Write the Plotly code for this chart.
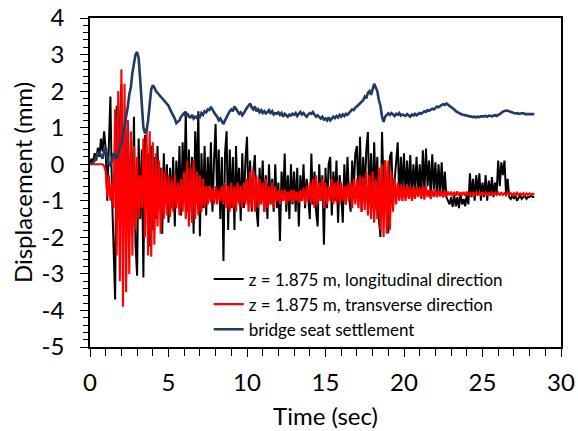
import plotly.graph_objects as go

# sampling interval of the digitised records (s)
sample_interval = 0.1

# z = 1.875 m, longitudinal direction (mm), one row per second
longitudinal = [
    0.0, 0.15, 0.05, 0.3, 0.1, 0.45, 0.2, 0.7, 0.35, 0.9,
    0.4, -1.0, 0.5, 1.85, -0.8, -2.0, -3.7, 1.6, -1.5, 1.0,
    2.2, -1.4, 0.9, -0.9, 1.2, -1.8, 0.6, -1.2, 1.3, -2.2,
    -3.05, 0.7, -1.5, 0.4, -3.1, 0.8, -1.2, 0.3, -2.25, 0.5,
    -1.8, 0.2, -1.5, 0.5, -1.1, -0.1, -1.9, 0.3, -1.0, 0.0,
    -1.6, -0.1, -1.2, 0.2, -1.7, 0.1, -0.9, 0.5, -1.4, 0.6,
    -0.8, 1.45, -1.3, 0.4, -1.0, 0.2, -1.9, 0.9, -0.5, 1.45,
    -1.97, 0.3, -1.2, 0.5, -1.4, 0.2, -0.9, 0.6, -1.3, 0.1,
    1.1, -1.0, 0.4, -1.5, 0.2, -2.65, 0.3, 0.9, -1.8, 0.4,
    -1.2, 0.2, -1.8, 0.5, -1.0, -0.1, -1.55, 0.3, -1.2, 0.1,
    0.75, -1.1, 0.1, -1.3, -0.2, 0.25, -1.2, -1.71, -0.1, -1.0,
    0.1, -1.3, -0.3, -1.5, 0.0, -1.1, -0.4, -1.3, 0.0, -1.2,
    -0.5, -2.1, -0.2, -1.0, 0.29, -1.3, -0.3, -1.5, 0.0, -1.1,
    -0.2, -1.3, -0.1, -1.7, -0.3, -1.0, 0.0, -1.2, -0.4, -0.9,
    -1.5, 0.29, -1.1, -0.2, -1.3, -1.7, 0.0, -1.0, -0.3, -2.2,
    -0.1, -1.2, 0.0, 0.2, -1.4, -0.2, -1.0, 0.1, -1.6, -0.3,
    -0.8, -1.6, 0.0, -1.1, 0.2, -0.9, -1.3, 0.1, -0.7, 0.3,
    0.5, -1.0, 0.75, -1.3, 0.2, -0.8, 0.4, 0.88, -1.1, 0.3,
    -1.2, 0.6, -0.8, 0.2, -1.5, -1.99, 0.88, -0.6, 0.1, -1.2,
    -1.89, 0.2, 0.34, -1.0, -0.5, 0.0, 0.6, -0.98, 0.2, -0.7,
    0.3, -0.9, 0.1, -0.8, 0.25, -0.9, 0.0, -0.7, 0.2, -0.85,
    0.0, -0.9, 0.38, -0.8, 0.43, -0.6, 0.1, -0.9, 0.27, -0.7,
    0.05, -0.9, 0.0, -0.8, 0.05, -0.9, -0.2, -0.9, -1.0, -1.1,
    -0.9, -1.17, -0.85, -1.15, -0.9, -1.2, -0.8, -1.1, -0.95, -1.15,
    -0.8, -1.1, -0.25, -0.9, -0.4, -1.0, -0.3, -0.8, -0.25, -1.0,
    -0.5, -0.9, -0.3, -1.0, -0.45, -0.85, -0.35, -0.9, -0.5, -0.8,
    0.1, -0.6, 0.05, -0.3, 0.1, -0.8, -0.4, -0.9, -0.95, -0.85,
    -0.95, -0.85, -1.0, -0.9, -0.85, -0.95, -0.9, -0.85, -0.95, -0.9,
    -0.9, -0.85, -0.9, -0.9,
]

# z = 1.875 m, transverse direction (mm)
transverse = [
    0.0, 0.0, 0.0, 0.0, 0.0, 0.0, 0.0, 0.0, 0.0, -0.05,
    -0.2, -0.9, -0.3, -1.0, -0.5, -1.2, 1.5, -2.5, 2.0, -3.2,
    2.6, -3.9, 2.2, -3.5, 1.2, -3.0, 0.9, -2.5, 0.5, -1.8,
    0.2, -1.5, -0.3, -1.2, 0.7, -2.0, 1.0, -2.5, 0.9, -2.53,
    0.6, -2.2, 0.3, -1.7, 0.1, -1.9, -0.1, -1.5, -0.2, -1.4,
    -0.3, -1.45, -0.4, -1.3, -0.27, -1.2, -0.5, -1.4, -0.4, -1.3,
    -0.2, -1.5, 0.1, -1.7, -0.1, -1.6, 0.11, -1.5, -0.2, -1.4,
    -0.3, -1.3, -0.4, -1.2, -0.6, -1.1, -0.6, -1.05, -0.65, -1.1,
    -0.6, -1.1, -0.7, -1.0, -0.6, -1.1, -0.5, -1.2, -0.6, -1.3,
    -0.5, -1.2, -0.6, -1.3, -0.5, -1.1, -0.6, -1.2, -0.5, -1.1,
    -0.4, -1.3, -0.2, -1.2, -0.14, -1.3, -0.3, -1.2, -0.4, -1.1,
    -0.5, -1.3, -0.4, -1.2, -0.6, -1.1, -0.5, -1.2, -0.6, -1.0,
    -0.7, -1.1, -0.7, -1.0, -0.7, -1.1, -0.75, -1.0, -0.7, -1.05,
    -0.7, -1.0, -0.75, -1.05, -0.7, -1.0, -0.65, -1.1, -0.6, -1.0,
    -0.5, -1.1, -0.4, -1.2, -0.3, -1.1, -0.5, -1.0, -0.4, -1.2,
    -0.5, -1.1, -0.6, -1.0, -0.4, -1.1, -0.5, -1.05, -0.45, -1.1,
    -0.5, -1.0, -0.6, -1.1, -0.55, -1.0, -0.5, -1.2, -0.4, -1.1,
    -0.4, -1.2, -0.3, -1.3, -0.35, -1.25, -0.2, -1.4, -0.3, -1.5,
    -0.2, -1.6, -0.4, -1.5, -0.1, -1.8, 0.0, -1.99, 0.11, -1.9,
    0.1, -1.8, -0.2, -1.3, -0.4, -1.1, -0.5, -1.0, -0.55, -1.0,
    -0.6, -1.0, -0.55, -0.95, -0.6, -1.0, -0.65, -0.95, -0.6, -0.9,
    -0.65, -0.95, -0.6, -0.97, -0.6, -0.9, -0.7, -0.95, -0.7, -0.9,
    -0.7, -0.9, -0.72, -0.88, -0.75, -0.9, -0.72, -0.87, -0.75, -0.85,
    -0.75, -0.88, -0.76, -0.86, -0.74, -0.87, -0.77, -0.85, -0.76, -0.86,
    -0.75, -0.85, -0.77, -0.86, -0.76, -0.84, -0.78, -0.86, -0.77, -0.85,
    -0.76, -0.85, -0.78, -0.84, -0.77, -0.86, -0.78, -0.85, -0.77, -0.84,
    -0.78, -0.85, -0.77, -0.84, -0.79, -0.85, -0.78, -0.84, -0.79, -0.85,
    -0.79, -0.84, -0.78, -0.85, -0.8, -0.84, -0.79, -0.85, -0.8, -0.84,
    -0.8, -0.84, -0.8, -0.83,
]

# bridge seat settlement (mm)
settlement = [
    0.0, 0.02, 0.05, 0.1, 0.18, 0.3, 0.33, 0.25, 0.15, 0.35,
    0.45, 0.2, 0.0, -0.03, 0.1, 0.3, 0.25, 0.15, 0.35, 0.47,
    0.55, 0.8, 1.0, 1.3, 1.55, 1.9, 2.1, 2.5, 2.8, 3.0,
    3.07, 2.9, 2.3, 1.6, 1.0, 0.85, 0.9, 1.2, 1.7, 2.05,
    2.16, 2.1, 2.0, 1.95, 1.9, 1.85, 1.8, 1.75, 1.72, 1.68,
    1.6, 1.5, 1.42, 1.35, 1.25, 1.12, 1.15, 1.2, 1.3, 1.35,
    1.4, 1.32, 1.39, 1.3, 1.28, 1.35, 1.25, 1.3, 1.27, 1.35,
    1.3, 1.4, 1.35, 1.45, 1.42, 1.5, 1.48, 1.57, 1.5, 1.4,
    1.35, 1.3, 1.2, 1.25, 1.15, 1.1, 1.2, 1.3, 1.4, 1.45,
    1.5, 1.45, 1.58, 1.5, 1.45, 1.38, 1.42, 1.34, 1.4, 1.5,
    1.55, 1.6, 1.66, 1.55, 1.5, 1.58, 1.45, 1.5, 1.42, 1.48,
    1.4, 1.45, 1.39, 1.42, 1.48, 1.4, 1.45, 1.36, 1.4, 1.38,
    1.42, 1.35, 1.4, 1.3, 1.38, 1.34, 1.3, 1.36, 1.33, 1.38,
    1.35, 1.4, 1.32, 1.38, 1.43, 1.36, 1.4, 1.34, 1.3, 1.36,
    1.4, 1.38, 1.43, 1.35, 1.3, 1.34, 1.28, 1.25, 1.3, 1.22,
    1.25, 1.2, 1.28, 1.2, 1.25, 1.3, 1.26, 1.32, 1.28, 1.35,
    1.3, 1.36, 1.32, 1.38, 1.35, 1.4, 1.45, 1.5, 1.48, 1.55,
    1.58, 1.62, 1.68, 1.7, 1.75, 1.85, 1.8, 1.95, 2.0, 1.9,
    2.05, 2.2, 2.1, 2.0, 1.75, 1.6, 1.3, 1.16, 1.3, 1.35,
    1.39, 1.35, 1.4, 1.36, 1.32, 1.38, 1.35, 1.4, 1.33, 1.36,
    1.35, 1.32, 1.37, 1.34, 1.3, 1.36, 1.33, 1.38, 1.34, 1.37,
    1.4, 1.38, 1.42, 1.45, 1.43, 1.48, 1.46, 1.5, 1.52, 1.5,
    1.55, 1.58, 1.56, 1.6, 1.62, 1.64, 1.62, 1.66, 1.63, 1.6,
    1.56, 1.52, 1.5, 1.45, 1.42, 1.4, 1.38, 1.36, 1.35, 1.34,
    1.33, 1.32, 1.3, 1.31, 1.29, 1.3, 1.28, 1.3, 1.29, 1.31,
    1.3, 1.31, 1.32, 1.3, 1.33, 1.32, 1.31, 1.33, 1.34, 1.32,
    1.34, 1.36, 1.4, 1.44, 1.46, 1.47, 1.46, 1.44, 1.42, 1.41,
    1.4, 1.39, 1.4, 1.38, 1.39, 1.38, 1.4, 1.37, 1.38, 1.37,
    1.37, 1.36, 1.37, 1.37,
]

series_names = [
    "z = 1.875 m, longitudinal direction",
    "z = 1.875 m, transverse direction",
    "bridge seat settlement",
]
series_colors = ["#000000", "#ff0000", "#1f3b63"]

y_tick_values = [-5, -4, -3, -2, -1, 0, 1, 2, 3, 4]
y_tick_labels = ["-5", "-4", "-3", "-2", "-1", "0", "1", "2", "3", "4"]
x_tick_values = [0, 5, 10, 15, 20, 25, 30]
x_tick_labels = ["0", "5", "10", "15", "20", "25", "30"]

x_title = "Time (sec)"
y_title = "Displacement (mm)"


def times(vals):
    return [round(i * sample_interval, 2) for i in range(len(vals))]


fig = go.Figure()
for vals, name, color, w in zip(
    [longitudinal, transverse, settlement], series_names, series_colors, [2.0, 2.1, 2.6]
):
    fig.add_trace(go.Scatter(
        x=times(vals), y=vals, mode="lines", name=name,
        line=dict(color=color, width=w),
    ))

font_family = "Lato, Carlito, Calibri, sans-serif"

fig.update_layout(
    width=578, height=431,
    margin=dict(l=90, r=17, t=18, b=84),
    paper_bgcolor="white", plot_bgcolor="white",
    font=dict(family=font_family, color="#000000", size=22),
    showlegend=True,
    legend=dict(
        x=0.252, y=0.26, xanchor="left", yanchor="top",
        bgcolor="rgba(255,255,255,0)",
        font=dict(size=17, family=font_family),
        tracegroupgap=0, itemwidth=30,
    ),
)

fig.update_xaxes(
    range=[0, 30], tickvals=x_tick_values, ticktext=x_tick_labels,
    automargin=False,
    showgrid=False, zeroline=False,
    showline=True, linecolor="#000000", linewidth=1.5, mirror=True,
    ticks="outside", ticklen=8, tickwidth=1.2, tickcolor="#000000",
    minor=dict(dtick=1, ticks="outside", ticklen=7, tickwidth=1.2, tickcolor="#000000"),
    tickfont=dict(size=24),
    ticklabelstandoff=5,
    title=dict(text=x_title, font=dict(size=24), standoff=14),
)
fig.update_yaxes(
    range=[-5, 4], tickvals=y_tick_values, ticktext=y_tick_labels,
    automargin=False,
    showgrid=False, zeroline=False,
    showline=True, linecolor="#000000", linewidth=1.5, mirror=True,
    ticks="outside", ticklen=8, tickwidth=1.2, tickcolor="#000000",
    minor=dict(dtick=0.2, ticks="outside", ticklen=5, tickwidth=1.2, tickcolor="#000000"),
    tickfont=dict(size=24),
    ticklabelstandoff=11,
    title=dict(text=y_title, font=dict(size=24), standoff=2),
)

fig.write_html("out.html")
